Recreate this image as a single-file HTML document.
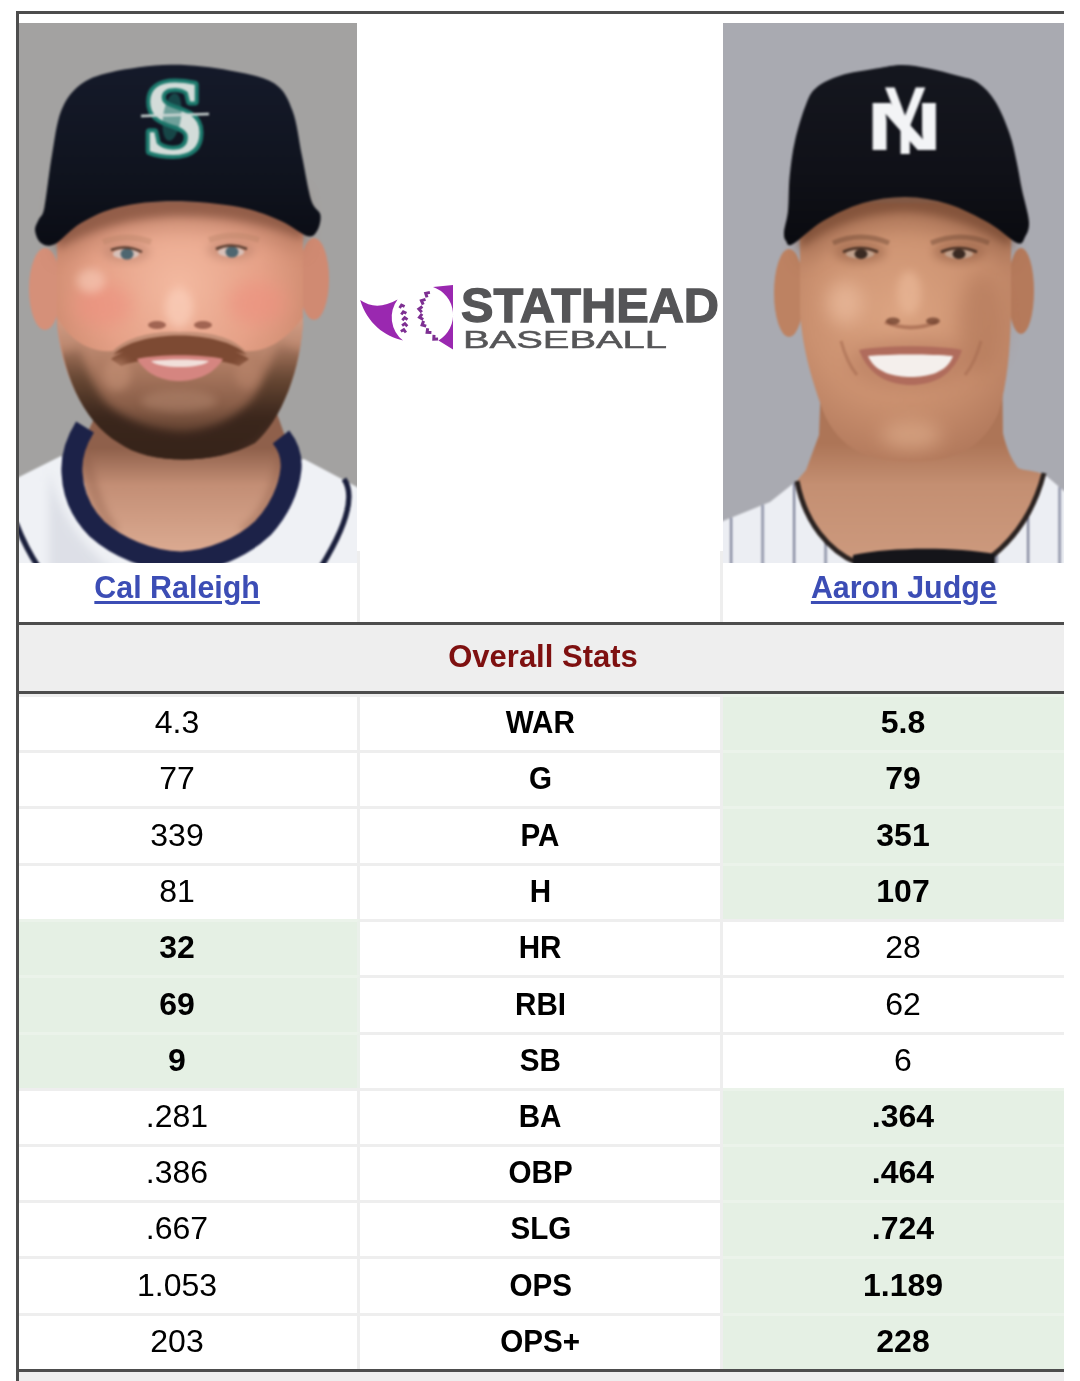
<!DOCTYPE html>
<html lang="en"><head><meta charset="utf-8"><title>Stathead Baseball - Player Comparison</title>
<style>
html,body{margin:0;padding:0;background:#fff;}
body{width:1080px;height:1381px;overflow:hidden;position:relative;font-family:"Liberation Sans",sans-serif;color:#000;}
#wrap{position:absolute;left:0;top:0;width:1080px;height:1381px;overflow:hidden;background:#fff;}
.bt{position:absolute;left:16px;top:11px;width:1048px;height:3px;background:#4d4d4d;}
.bl{position:absolute;left:16px;top:11px;width:3px;height:1370px;background:#4d4d4d;}
.bb{position:absolute;left:16px;top:1369px;width:1048px;height:3px;background:#4d4d4d;}
.foot{position:absolute;left:19px;top:1372px;width:1045px;height:9px;background:#eeeeee;}
.photo{position:absolute;top:23px;height:540px;overflow:hidden;}
#pl{left:19px;width:338px;}
#pr{left:723px;width:341px;}
.photo svg{display:block;}
#logo{position:absolute;left:355px;top:275px;width:370px;height:85px;}
.vs{position:absolute;width:3px;background:#eeeeee;}
.name{position:absolute;top:564px;height:50px;line-height:46px;text-align:center;font-weight:bold;font-size:32px;}
.name a{display:inline-block;transform:scaleX(.95);color:#3c4db5;text-decoration:underline;text-decoration-thickness:3px;text-underline-offset:3px;}
.hdr{position:absolute;left:19px;top:622px;width:1045px;height:66px;border-top:3px solid #4d4d4d;border-bottom:3px solid #4d4d4d;background:#eeeeee;text-align:center;line-height:64px;text-indent:3px;font-weight:bold;font-size:31px;color:#7e1010;}
.row{position:absolute;left:19px;width:1045px;}
.c{position:absolute;top:0;height:100%;box-sizing:border-box;border-top:3px solid #eeeeee;text-align:center;font-size:32px;}
.c span{position:absolute;left:0;right:0;top:50%;margin-top:-21.5px;line-height:40px;height:40px;}
.c .lb b{display:inline-block;transform:scaleX(.925);font-weight:bold;}
.c1{left:0;width:341px;border-right:3px solid #eeeeee;}
.c1 span{left:-22px;}
.c3 span{right:-19px;}
.c2 span{right:-1px;}
.c2{left:341px;width:363px;border-right:3px solid #eeeeee;}
.c3{left:704px;width:341px;}
.c .lb{font-weight:bold;}
.win{background:#e5f0e4;border-top-color:#ebf3ea;font-weight:bold;}
.c1.win{border-right-color:#eaf0ea;}

</style></head><body>
<div id="wrap">
<div class="bt"></div><div class="bl"></div><div class="bb"></div><div class="foot"></div>
<div class="photo" id="pl"><svg width="338" height="540" viewBox="0 0 338 540">
<defs>
<filter color-interpolation-filters="sRGB" id="lb1" x="-20%" y="-20%" width="140%" height="140%"><feGaussianBlur stdDeviation="1.1"/></filter>
<filter color-interpolation-filters="sRGB" id="lb4" x="-30%" y="-30%" width="160%" height="160%"><feGaussianBlur stdDeviation="4"/></filter>
<filter color-interpolation-filters="sRGB" id="lb8" x="-50%" y="-50%" width="200%" height="200%"><feGaussianBlur stdDeviation="9"/></filter>
<radialGradient id="lskin" cx="160" cy="262" r="150" gradientUnits="userSpaceOnUse"><stop offset="0" stop-color="#f3b9a0"/><stop offset=".55" stop-color="#e6a288"/><stop offset="1" stop-color="#c88469"/></radialGradient>
<linearGradient id="lbeard" x1="0" y1="298" x2="0" y2="436" gradientUnits="userSpaceOnUse"><stop offset="0" stop-color="#cf9a82"/><stop offset=".3" stop-color="#b07d64"/><stop offset=".6" stop-color="#8b5f49"/><stop offset=".85" stop-color="#5a3c2c"/><stop offset="1" stop-color="#3e281d"/></linearGradient>
<linearGradient id="lneck" x1="0" y1="425" x2="0" y2="530" gradientUnits="userSpaceOnUse"><stop offset="0" stop-color="#8f604b"/><stop offset=".35" stop-color="#c38e75"/><stop offset="1" stop-color="#dcab92"/></linearGradient>
<linearGradient id="lcap" x1="0" y1="40" x2="0" y2="220" gradientUnits="userSpaceOnUse"><stop offset="0" stop-color="#151a2a"/><stop offset=".6" stop-color="#10141f"/><stop offset="1" stop-color="#0b0d15"/></linearGradient>
<linearGradient id="lband" x1="0" y1="318" x2="0" y2="395" gradientUnits="userSpaceOnUse"><stop offset="0" stop-color="#5a3b2b" stop-opacity=".15"/><stop offset=".5" stop-color="#46301f" stop-opacity=".7"/><stop offset="1" stop-color="#36231a" stop-opacity="1"/></linearGradient>
</defs>
<g filter="url(#lb1)">
<rect x="-20" y="-20" width="380" height="580" fill="#a3a2a1"/>
<!-- jersey -->
<path d="M-20,463 L0,454 L42,433 L60,440 L270,440 L285,436 L338,464 L360,476 L360,560 L-20,560 Z" fill="#eff1f5"/>
<path d="M30,445 C40,500 80,545 120,560 L30,560 Z" fill="#cfd2dc" opacity=".55" filter="url(#lb4)"/>
<path d="M325,456 C336,472 328,502 302,544" fill="none" stroke="#1a1f3c" stroke-width="5.5"/>
<path d="M-3,500 C4,518 10,530 20,545" fill="none" stroke="#1a1f3c" stroke-width="5.5"/>
<!-- neck -->
<path d="M80,385 L58,432 L78,512 L159,548 L242,512 L272,430 L256,385 Z" fill="url(#lneck)"/>
<path d="M66,432 C74,470 84,496 96,508" fill="none" stroke="#8a5b47" stroke-width="8" opacity=".5" filter="url(#lb4)"/>
<path d="M264,430 C256,470 244,496 224,508" fill="none" stroke="#8a5b47" stroke-width="8" opacity=".5" filter="url(#lb4)"/>
<!-- collar -->
<path d="M66,404 C56,420 52,435 53,450 C54,470 62,490 78,506 C98,524 130,538 162,539 C192,538 224,524 244,505 C260,488 270,466 272,446 C273,434 270,424 262,414" fill="none" stroke="#1c2248" stroke-width="21"/>
<!-- ears -->
<ellipse cx="26" cy="266" rx="16" ry="41" fill="#d59079"/>
<ellipse cx="295" cy="256" rx="15" ry="41" fill="#d08a72"/>
<!-- face -->
<path d="M38,180 L38,300 C42,345 62,398 103,420 C130,438 196,438 236,418 C262,398 282,345 284,298 L284,180 Z" fill="url(#lskin)"/>
<ellipse cx="84" cy="282" rx="30" ry="22" fill="#ee8f7e" opacity=".6" filter="url(#lb8)"/>
<ellipse cx="238" cy="280" rx="30" ry="22" fill="#ee8f7e" opacity=".6" filter="url(#lb8)"/>
<ellipse cx="72" cy="258" rx="14" ry="12" fill="#fbd6c5" opacity=".5" filter="url(#lb4)"/>
<ellipse cx="160" cy="285" rx="14" ry="20" fill="#fbd0bc" opacity=".7" filter="url(#lb4)"/>
<!-- brim shadow on forehead -->
<path d="M38,170 L284,170 L284,216 C240,198 200,193 160,193 C110,194 70,207 38,226 Z" fill="#7c4c3a" opacity=".8" filter="url(#lb4)"/>
<path d="M38,170 L284,170 L284,230 C240,212 200,206 160,206 C110,207 70,220 38,238 Z" fill="#9a634c" opacity=".35" filter="url(#lb8)"/>
<!-- brows, eyes -->
<path d="M84,219 Q108,210 132,219" fill="none" stroke="#b58263" stroke-width="6" opacity=".35"/>
<path d="M190,217 Q214,208 240,217" fill="none" stroke="#b58263" stroke-width="6" opacity=".35"/>
<ellipse cx="107" cy="229" rx="24" ry="10" fill="#a87461" opacity=".4" filter="url(#lb4)"/>
<ellipse cx="212" cy="227" rx="24" ry="10" fill="#a87461" opacity=".4" filter="url(#lb4)"/>
<ellipse cx="107" cy="231" rx="13" ry="5" fill="#d8c0b8"/>
<ellipse cx="212" cy="229" rx="13" ry="5" fill="#d8c0b8"/>
<ellipse cx="108" cy="231" rx="6.5" ry="5.5" fill="#4e6670"/>
<ellipse cx="213" cy="229" rx="6.5" ry="5.5" fill="#4e6670"/>
<path d="M92,227 Q107,221 123,229" fill="none" stroke="#5a3d30" stroke-width="2.5"/>
<path d="M197,226 Q212,219 228,226" fill="none" stroke="#5a3d30" stroke-width="2.5"/>
<!-- nose -->
<ellipse cx="138" cy="302" rx="9" ry="4" fill="#8e5342" opacity=".8"/>
<ellipse cx="184" cy="302" rx="9" ry="4" fill="#8e5342" opacity=".8"/>
<!-- beard -->
<path d="M39,296 C48,312 66,330 94,328 C110,312 140,308 160,309 C182,308 212,312 226,328 C250,330 272,312 284,294 C283,345 262,398 236,420 C196,442 130,442 100,420 C62,398 42,345 39,296 Z" fill="url(#lbeard)"/>
<clipPath id="lbclip"><path d="M39,296 C48,312 66,330 94,328 C110,312 140,308 160,309 C182,308 212,312 226,328 C250,330 272,312 284,294 C283,345 262,398 236,420 C196,442 130,442 100,420 C62,398 42,345 39,296 Z"/></clipPath>
<g clip-path="url(#lbclip)"><path d="M44,330 C50,352 60,375 72,390 C90,410 125,425 163,427 C198,425 230,410 250,384 C260,368 268,350 276,326" fill="none" stroke="url(#lband)" stroke-width="36" opacity=".92" filter="url(#lb4)"/>
<ellipse cx="160" cy="378" rx="38" ry="11" fill="#b98d75" opacity=".45" filter="url(#lb4)"/></g>
<path d="M94,332 C118,306 202,306 228,332 C200,322 120,322 94,332 Z" fill="#7d4a33"/>
<path d="M92,336 C120,314 200,314 230,336 L220,343 C190,332 130,332 102,343 Z" fill="#7d4a33"/>
<ellipse cx="98" cy="352" rx="14" ry="16" fill="#c99479" opacity=".55" filter="url(#lb4)"/>
<ellipse cx="228" cy="352" rx="12" ry="14" fill="#c08a70" opacity=".45" filter="url(#lb4)"/>
<!-- mouth -->
<path d="M118,336 C140,331 182,331 204,336 C194,353 174,358 160,358 C146,358 128,353 118,336 Z" fill="#d58580"/>
<path d="M132,338 C148,336 174,336 190,338 C182,346 140,346 132,338 Z" fill="#f1dfda"/>
<!-- cap -->
<path d="M16.0,207.0 C15.7,203.0 18.4,199.8 20.0,196.0 C21.6,192.2 23.2,195.0 25.4,184.4 C27.5,173.8 30.1,148.7 32.9,132.6 C35.7,116.5 37.5,99.8 42.1,88.1 C46.7,76.4 52.3,68.7 60.6,62.2 C68.9,55.7 77.0,52.6 92.1,49.2 C107.2,45.8 131.7,42.1 151.4,41.8 C171.2,41.5 193.3,44.3 210.6,47.4 C227.9,50.5 244.6,53.5 255.1,60.3 C265.6,67.1 269.0,76.0 273.6,88.1 C278.2,100.1 279.8,117.8 282.9,132.6 C286.0,147.4 289.0,167.1 292.1,177.0 C295.2,186.9 300.4,186.6 301.4,191.8 C302.4,197.0 300.2,204.5 298.0,208.0 C295.8,211.5 294.0,214.7 288.0,213.0 C282.0,211.3 273.3,202.8 262.0,198.0 C250.7,193.2 237.8,187.3 220.0,184.0 C202.2,180.7 175.0,178.0 155.0,178.0 C135.0,178.0 115.5,180.3 100.0,184.0 C84.5,187.7 72.7,193.8 62.0,200.0 C51.3,206.2 42.7,217.7 36.0,221.0 C29.3,224.3 25.3,222.3 22.0,220.0 C18.7,217.7 16.3,211.0 16.0,207.0 Z" fill="url(#lcap)"/>
<text x="155" y="131" text-anchor="middle" font-family="Liberation Serif, serif" font-weight="bold" font-size="108" fill="#d3dcd9" stroke="#1c7a6d" stroke-width="8" paint-order="stroke" stroke-linejoin="round">S</text>
<ellipse cx="153" cy="94" rx="9" ry="24" fill="#1c6f66" opacity=".55" transform="rotate(8 153 94)"/>
<path d="M122,93 L190,91" stroke="#cfd8d6" stroke-width="2.5"/>
</g>
</svg>
</div>
<div class="photo" id="pr"><svg width="341" height="540" viewBox="0 0 341 540">
<defs>
<filter color-interpolation-filters="sRGB" id="rb1" x="-20%" y="-20%" width="140%" height="140%"><feGaussianBlur stdDeviation="1.1"/></filter>
<filter color-interpolation-filters="sRGB" id="rb4" x="-30%" y="-30%" width="160%" height="160%"><feGaussianBlur stdDeviation="4"/></filter>
<filter color-interpolation-filters="sRGB" id="rb8" x="-50%" y="-50%" width="200%" height="200%"><feGaussianBlur stdDeviation="9"/></filter>
<radialGradient id="rskin" cx="175" cy="290" r="160" gradientUnits="userSpaceOnUse"><stop offset="0" stop-color="#dca482"/><stop offset=".55" stop-color="#cb9170"/><stop offset="1" stop-color="#b0775a"/></radialGradient>
<linearGradient id="rneck" x1="0" y1="420" x2="0" y2="540" gradientUnits="userSpaceOnUse"><stop offset="0" stop-color="#ad7557"/><stop offset=".35" stop-color="#c48f72"/><stop offset="1" stop-color="#cd9a7e"/></linearGradient>
<linearGradient id="rcap" x1="0" y1="40" x2="0" y2="220" gradientUnits="userSpaceOnUse"><stop offset="0" stop-color="#15171f"/><stop offset=".6" stop-color="#101118"/><stop offset="1" stop-color="#0a0b10"/></linearGradient>
<pattern id="pin" x="7" y="0" width="31.5" height="10" patternUnits="userSpaceOnUse"><rect x="0" y="0" width="2.2" height="10" fill="#7d8299"/></pattern>
<pattern id="pin2" x="20.5" y="0" width="31.5" height="10" patternUnits="userSpaceOnUse"><rect x="0" y="0" width="2.2" height="10" fill="#7d8299"/></pattern>
</defs>
<g filter="url(#rb1)">
<rect x="-20" y="-20" width="380" height="580" fill="#a9aab1"/>
<!-- jersey -->
<path d="M-20,506 L0,498 L47,479 L76,456 L320,450 L341,468 L362,480 L362,560 L-20,560 Z" fill="#eceef3"/>
<clipPath id="rjclip"><path d="M-20,506 L0,498 L47,479 L76,456 L320,450 L341,468 L362,480 L362,560 L-20,560 Z"/></clipPath>
<g clip-path="url(#rjclip)"><rect x="-20" y="440" width="200" height="120" fill="url(#pin)"/><rect x="180" y="440" width="190" height="120" fill="url(#pin2)"/></g>
<!-- neck & chest -->
<path d="M99,330 L96,412 L83,447 L72,460 C80,500 105,528 132,536 L132,560 L270,560 L270,532 C296,515 315,480 322,452 C312,447 302,448 295,445 C288,436 283,424 280,410 L279,330 Z" fill="url(#rneck)"/>
<path d="M74,458 C82,500 106,528 134,540" fill="none" stroke="#2a2220" stroke-width="5"/>
<path d="M321,450 C312,485 296,512 268,534" fill="none" stroke="#2a2220" stroke-width="5"/>
<path d="M130,532 C170,524 230,524 272,531 L272,560 L130,560 Z" fill="#15151a"/>
<!-- ears -->
<ellipse cx="66" cy="270" rx="15" ry="44" fill="#bd8262"/>
<ellipse cx="298" cy="268" rx="13" ry="43" fill="#b57a5b"/>
<!-- face -->
<path d="M77,180 L77,290 C80,330 90,360 100,388 C108,408 120,420 134,428 C160,442 214,443 242,428 C258,419 270,404 276,388 C284,360 287,330 288,290 L288,180 Z" fill="url(#rskin)"/>
<ellipse cx="122" cy="280" rx="18" ry="22" fill="#ecbd9f" opacity=".7" filter="url(#rb8)"/>
<ellipse cx="186" cy="270" rx="12" ry="22" fill="#e9b797" opacity=".7" filter="url(#rb4)"/>
<ellipse cx="188" cy="412" rx="30" ry="14" fill="#dba988" opacity=".7" filter="url(#rb8)"/>
<ellipse cx="258" cy="300" rx="22" ry="50" fill="#a96f52" opacity=".45" filter="url(#rb8)"/>
<!-- brim shadow -->
<path d="M77,165 L288,165 L288,224 C250,200 215,190 182,189 C140,190 105,204 77,226 Z" fill="#6f432d" opacity=".8" filter="url(#rb4)"/>
<path d="M77,165 L288,165 L288,240 C250,216 215,206 182,205 C140,206 105,220 77,242 Z" fill="#8d5a41" opacity=".4" filter="url(#rb8)"/>
<!-- brows / eyes -->
<path d="M110,220 Q138,208 166,220" fill="none" stroke="#6d4633" stroke-width="5" opacity=".45"/>
<path d="M208,220 Q238,208 266,220" fill="none" stroke="#6d4633" stroke-width="5" opacity=".45"/>
<ellipse cx="137" cy="229" rx="26" ry="11" fill="#8a563d" opacity=".45" filter="url(#rb4)"/>
<ellipse cx="236" cy="229" rx="26" ry="11" fill="#8a563d" opacity=".45" filter="url(#rb4)"/>
<ellipse cx="137" cy="231" rx="14" ry="4.5" fill="#bfa08c"/>
<ellipse cx="236" cy="231" rx="14" ry="4.5" fill="#bfa08c"/>
<ellipse cx="138" cy="231" rx="6.5" ry="5" fill="#3a2a22"/>
<ellipse cx="236" cy="231" rx="6.5" ry="5" fill="#3a2a22"/>
<path d="M120,229 Q137,221 155,229" fill="none" stroke="#4a3226" stroke-width="2.5"/>
<path d="M218,229 Q236,221 254,229" fill="none" stroke="#4a3226" stroke-width="2.5"/>
<!-- nose -->
<path d="M162,299 Q188,310 214,299" fill="none" stroke="#93583f" stroke-width="4" opacity=".55"/>
<ellipse cx="170" cy="298" rx="7" ry="3.5" fill="#6e3f2c" opacity=".75"/>
<ellipse cx="210" cy="298" rx="7" ry="3.5" fill="#6e3f2c" opacity=".75"/>
<ellipse cx="188" cy="340" rx="62" ry="26" fill="#a66a50" opacity=".35" filter="url(#rb8)"/>
<!-- mouth -->
<path d="M136,327 C162,322 213,322 239,327 C230,354 208,362 188,362 C168,362 146,354 136,327 Z" fill="#b06c5c"/>
<path d="M145,333 C170,331 206,331 230,333 C224,350 204,354 188,354 C172,354 152,350 145,333 Z" fill="#f4efec"/>
<path d="M118,318 Q124,340 134,352" fill="none" stroke="#a66d52" stroke-width="3" opacity=".6"/>
<path d="M258,318 Q252,340 242,352" fill="none" stroke="#a66d52" stroke-width="3" opacity=".6"/>
<!-- cap -->
<path d="M61.0,209.0 C61.3,204.0 64.0,197.3 65.0,188.0 C66.0,178.7 65.5,164.7 66.7,153.0 C67.9,141.3 69.3,129.4 72.0,117.7 C74.7,106.0 79.1,91.4 82.6,82.6 C86.1,73.8 87.2,70.0 93.0,65.0 C98.8,60.0 107.7,55.8 117.7,52.6 C127.7,49.4 142.7,47.4 153.0,45.6 C163.3,43.8 170.5,42.0 179.3,42.0 C188.1,42.0 196.6,43.8 205.7,45.6 C214.8,47.4 225.7,50.2 233.9,52.6 C242.1,55.0 248.6,55.3 255.0,59.7 C261.4,64.1 267.3,70.5 272.6,79.0 C277.9,87.5 283.1,100.7 286.6,110.7 C290.1,120.7 291.6,129.5 293.7,138.9 C295.8,148.3 296.9,157.0 299.0,167.0 C301.1,177.0 305.5,190.9 306.0,198.7 C306.5,206.5 304.0,210.4 302.0,214.0 C300.0,217.6 300.0,222.3 294.0,220.0 C288.0,217.7 277.5,206.5 266.0,200.0 C254.5,193.5 238.8,185.3 225.0,181.0 C211.2,176.7 197.2,174.2 183.0,174.0 C168.8,173.8 153.8,176.0 140.0,180.0 C126.2,184.0 111.7,191.2 100.0,198.0 C88.3,204.8 76.2,217.7 70.0,221.0 C63.8,224.3 64.5,220.0 63.0,218.0 C61.5,216.0 60.7,214.0 61.0,209.0 Z" fill="url(#rcap)"/>
<text x="0" y="0" transform="translate(142.6,127) scale(1.58,1)" font-family="Liberation Sans, sans-serif" font-weight="bold" font-size="68" fill="#f3f4f6">N</text>
<text x="0" y="0" transform="translate(161,131) scale(.66,1)" font-family="Liberation Sans, sans-serif" font-weight="bold" font-size="96" fill="#f3f4f6">Y</text>
</g>
</svg>
</div>
<div id="logo"><svg width="370" height="85" viewBox="0 0 370 85" style="overflow:visible">
<path d="M5.2,25.1 Q21.5,36.5 42.6,24.5 A29.5,29.5 0 0,0 48,65.5 C30,62 12,48 5.2,25.1 Z" fill="#9a28b0"/>
<path d="M78,12 L98,10 L98,74.5 L83.5,65.4 A29.5,29.5 0 0,0 78,12 Z" fill="#9a28b0"/>
<polyline points="44.6,32.9 46.5,30.0 49.6,31.6" fill="none" stroke="#7d2f92" stroke-width="2.8" stroke-linejoin="miter"/>
<polyline points="46.3,39.5 48.3,36.7 51.4,38.3" fill="none" stroke="#7d2f92" stroke-width="2.8" stroke-linejoin="miter"/>
<polyline points="47.3,45.2 49.7,42.6 52.5,44.7" fill="none" stroke="#7d2f92" stroke-width="2.8" stroke-linejoin="miter"/>
<polyline points="47.1,50.7 49.9,48.6 52.3,51.2" fill="none" stroke="#7d2f92" stroke-width="2.8" stroke-linejoin="miter"/>
<polyline points="45.8,56.4 48.8,54.7 50.9,57.5" fill="none" stroke="#7d2f92" stroke-width="2.8" stroke-linejoin="miter"/>
<polyline points="72.0,22.4 70.7,18.3 74.9,17.4" fill="none" stroke="#7d2f92" stroke-width="3" stroke-linejoin="miter"/>
<polyline points="68.2,29.6 66.4,25.7 70.5,24.3" fill="none" stroke="#7d2f92" stroke-width="3" stroke-linejoin="miter"/>
<polyline points="66.8,37.2 63.9,34.0 67.4,31.5" fill="none" stroke="#7d2f92" stroke-width="3" stroke-linejoin="miter"/>
<polyline points="68.2,44.5 64.5,42.3 67.1,38.9" fill="none" stroke="#7d2f92" stroke-width="3" stroke-linejoin="miter"/>
<polyline points="71.2,51.1 67.1,49.9 68.6,45.9" fill="none" stroke="#7d2f92" stroke-width="3" stroke-linejoin="miter"/>
<polyline points="76.4,57.6 72.1,57.4 72.7,53.2" fill="none" stroke="#7d2f92" stroke-width="3" stroke-linejoin="miter"/>
<polyline points="83.1,64.0 78.8,64.2 79.0,59.9" fill="none" stroke="#7d2f92" stroke-width="3" stroke-linejoin="miter"/>
<text x="106" y="47" font-family="Liberation Sans, sans-serif" font-weight="bold" font-size="48" fill="#555557" stroke="#555557" stroke-width="1.3" textLength="258" lengthAdjust="spacingAndGlyphs">STATHEAD</text>
<text x="108" y="73" font-family="Liberation Sans, sans-serif" font-size="23" fill="#555557" stroke="#555557" stroke-width=".5" textLength="204" lengthAdjust="spacingAndGlyphs">BASEBALL</text>
</svg>
</div>
<div class="vs" style="left:357px;top:551px;height:71px"></div><div class="vs" style="left:720px;top:551px;height:71px"></div>
<div class="name" style="left:8px;width:338px"><a href="#">Cal Raleigh</a></div>
<div class="name" style="left:733px;width:341px"><a href="#" class="aj">Aaron Judge</a></div>
<div class="hdr"><span>Overall Stats</span></div>
<div class="row" style="top:694px;height:56px"><div class="c c1"><span>4.3</span></div><div class="c c2"><span class="lb"><b>WAR</b></span></div><div class="c c3 win"><span>5.8</span></div></div>
<div class="row" style="top:750px;height:56px"><div class="c c1"><span>77</span></div><div class="c c2"><span class="lb"><b>G</b></span></div><div class="c c3 win"><span>79</span></div></div>
<div class="row" style="top:806px;height:57px"><div class="c c1"><span>339</span></div><div class="c c2"><span class="lb"><b>PA</b></span></div><div class="c c3 win"><span>351</span></div></div>
<div class="row" style="top:863px;height:56px"><div class="c c1"><span>81</span></div><div class="c c2"><span class="lb"><b>H</b></span></div><div class="c c3 win"><span>107</span></div></div>
<div class="row" style="top:919px;height:56px"><div class="c c1 win"><span>32</span></div><div class="c c2"><span class="lb"><b>HR</b></span></div><div class="c c3"><span>28</span></div></div>
<div class="row" style="top:975px;height:57px"><div class="c c1 win"><span>69</span></div><div class="c c2"><span class="lb"><b>RBI</b></span></div><div class="c c3"><span>62</span></div></div>
<div class="row" style="top:1032px;height:56px"><div class="c c1 win"><span>9</span></div><div class="c c2"><span class="lb"><b>SB</b></span></div><div class="c c3"><span>6</span></div></div>
<div class="row" style="top:1088px;height:56px"><div class="c c1"><span>.281</span></div><div class="c c2"><span class="lb"><b>BA</b></span></div><div class="c c3 win"><span>.364</span></div></div>
<div class="row" style="top:1144px;height:56px"><div class="c c1"><span>.386</span></div><div class="c c2"><span class="lb"><b>OBP</b></span></div><div class="c c3 win"><span>.464</span></div></div>
<div class="row" style="top:1200px;height:56px"><div class="c c1"><span>.667</span></div><div class="c c2"><span class="lb"><b>SLG</b></span></div><div class="c c3 win"><span>.724</span></div></div>
<div class="row" style="top:1256px;height:57px"><div class="c c1"><span>1.053</span></div><div class="c c2"><span class="lb"><b>OPS</b></span></div><div class="c c3 win"><span>1.189</span></div></div>
<div class="row" style="top:1313px;height:56px"><div class="c c1"><span>203</span></div><div class="c c2"><span class="lb"><b>OPS+</b></span></div><div class="c c3 win"><span>228</span></div></div>
</div>
</body></html>
